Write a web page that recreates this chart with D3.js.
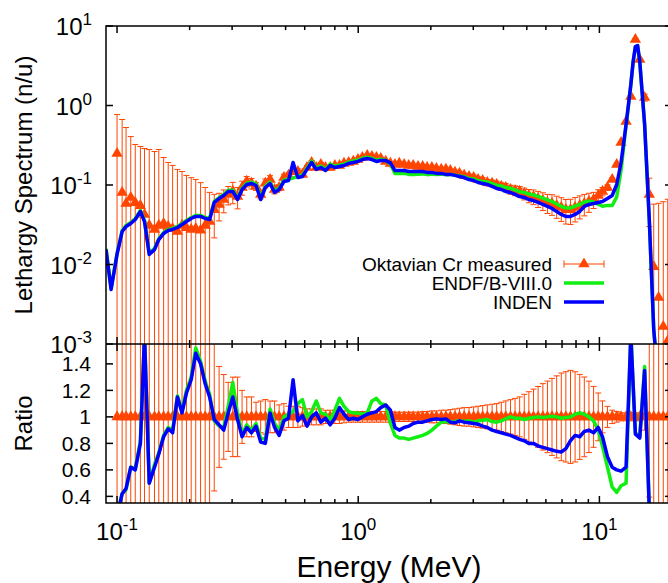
<!DOCTYPE html>
<html>
<head>
<meta charset="utf-8">
<script src="https://cdn.jsdelivr.net/npm/d3@7"></script>
<style>
  body { margin: 0; background: #fff; }
  svg { display: block; }
  text { font-family: "Liberation Sans", Arial, Helvetica, sans-serif; fill: #000; }
</style>
</head>
<body>
<svg id="chart" width="668" height="583"></svg>
<script>
// ---- measured spectrum (Oktavian Cr), lethargy units ----
const measE = [
  0.100, 0.105, 0.109, 0.114, 0.119, 0.125, 0.130, 0.136, 0.143, 0.149,
  0.156, 0.163, 0.170, 0.178, 0.186, 0.194, 0.203, 0.212, 0.222, 0.232,
  0.242, 0.253, 0.265, 0.277, 0.289, 0.302, 0.316, 0.330, 0.345, 0.361,
  0.377, 0.394, 0.412, 0.431, 0.450, 0.470, 0.492, 0.514, 0.537, 0.562,
  0.587, 0.613, 0.641, 0.670, 0.700, 0.732, 0.765, 0.800, 0.836, 0.873,
  0.913, 0.954, 0.997, 1.04, 1.09, 1.14, 1.19, 1.24, 1.30, 1.36,
  1.42, 1.48, 1.55, 1.62, 1.69, 1.77, 1.85, 1.93, 2.02, 2.11,
  2.21, 2.31, 2.41, 2.52, 2.63, 2.75, 2.88, 3.01, 3.14, 3.28,
  3.43, 3.59, 3.75, 3.92, 4.09, 4.28, 4.47, 4.67, 4.88, 5.10,
  5.33, 5.57, 5.83, 6.09, 6.36, 6.65, 6.95, 7.26, 7.59, 7.93,
  8.29, 8.66, 9.05, 9.46, 9.89, 10.3, 10.8, 11.3, 11.8, 12.3,
  12.9, 13.5, 14.1, 14.7, 15.4, 16.1, 16.8, 17.6, 18.4, 19.2
];
const measVal = [
  0.249, 0.0805, 0.0585, 0.0697, 0.060, 0.055, 0.0426, 0.031, 0.0276, 0.031,
  0.0328, 0.030, 0.0284, 0.026, 0.031, 0.029, 0.0276, 0.0284, 0.027, 0.031,
  0.0347, 0.049, 0.057, 0.0657, 0.076, 0.083, 0.0716, 0.093, 0.111, 0.105,
  0.096, 0.076, 0.105, 0.117, 0.0878, 0.093, 0.124, 0.132, 0.148, 0.148,
  0.136, 0.166, 0.192, 0.166, 0.181, 0.166, 0.166, 0.176, 0.176, 0.187,
  0.192, 0.198, 0.209, 0.222, 0.235, 0.228, 0.222, 0.215, 0.198, 0.187,
  0.181, 0.187, 0.181, 0.176, 0.176, 0.171, 0.171, 0.166, 0.166, 0.161,
  0.157, 0.157, 0.152, 0.144, 0.140, 0.132, 0.128, 0.124, 0.117, 0.114,
  0.1075, 0.105, 0.1015, 0.096, 0.093, 0.0878, 0.0853, 0.083, 0.0782, 0.0738,
  0.0716, 0.0676, 0.0638, 0.060, 0.0585, 0.0552, 0.052, 0.049, 0.049, 0.052,
  0.0552, 0.0585, 0.062, 0.0657, 0.0738, 0.083, 0.093, 0.117, 0.181, 0.342,
  0.629, 1.30, 6.76, 3.79, 1.26, 0.076, 0.0094, 0.00385, 0.00166, 0.0011
];
const measErr = [
  0.52, 0.586, 0.47, 0.337, 0.263, 0.25, 0.245, 0.249, 0.236, 0.249,
  0.189, 0.162, 0.148, 0.131, 0.117, 0.103, 0.096, 0.089, 0.080, 0.062,
  0.046, 0.0274, 0.0217, 0.021, 0.0198, 0.0249, 0.0215, 0.0186, 0.0167, 0.0158,
  0.0106, 0.0091, 0.0137, 0.014, 0.0105, 0.0084, 0.0124, 0.0106, 0.0118, 0.0118,
  0.0095, 0.010, 0.0115, 0.010, 0.0109, 0.0083, 0.0083, 0.0088, 0.0088, 0.0084,
  0.0077, 0.0079, 0.0084, 0.0089, 0.0094, 0.0091, 0.0089, 0.0086, 0.0079, 0.0075,
  0.0063, 0.0065, 0.0063, 0.0062, 0.0062, 0.0060, 0.0068, 0.0066, 0.0075, 0.0072,
  0.0079, 0.0079, 0.0084, 0.0086, 0.0091, 0.0092, 0.0090, 0.0093, 0.0094, 0.0097,
  0.0097, 0.0100, 0.0102, 0.0106, 0.0112, 0.0114, 0.0119, 0.0125, 0.0133, 0.0140,
  0.0150, 0.0155, 0.0160, 0.0162, 0.0170, 0.0171, 0.0172, 0.0167, 0.0172, 0.0177,
  0.0177, 0.0176, 0.0167, 0.0151, 0.0133, 0.010, 0.0074, 0.0059, 0.0072, 0.0103,
  0.0189, 0.039, 0.2, 0.11, 0.126, 0.046, 0.048, 0.055, 0.06, 0.065
];

// ---- calculated spectra ----
const modelE = [
  0.0900, 0.0945, 0.100, 0.105, 0.109, 0.114, 0.119, 0.125, 0.130, 0.136,
  0.143, 0.149, 0.156, 0.163, 0.170, 0.178, 0.186, 0.194, 0.203, 0.212,
  0.222, 0.232, 0.242, 0.253, 0.265, 0.277, 0.289, 0.302, 0.316, 0.330,
  0.345, 0.361, 0.377, 0.394, 0.412, 0.431, 0.450, 0.470, 0.492, 0.514,
  0.537, 0.562, 0.587, 0.613, 0.641, 0.670, 0.700, 0.732, 0.765, 0.800,
  0.836, 0.873, 0.913, 0.954, 0.997, 1.04, 1.09, 1.14, 1.19, 1.24,
  1.30, 1.36, 1.42, 1.48, 1.55, 1.62, 1.69, 1.77, 1.85, 1.93,
  2.02, 2.11, 2.21, 2.31, 2.41, 2.52, 2.63, 2.75, 2.88, 3.01,
  3.14, 3.28, 3.43, 3.59, 3.75, 3.92, 4.09, 4.28, 4.47, 4.67,
  4.88, 5.10, 5.33, 5.57, 5.83, 6.09, 6.36, 6.65, 6.95, 7.26,
  7.59, 7.93, 8.29, 8.66, 9.05, 9.46, 9.89, 10.3, 10.8, 11.3,
  11.8, 12.3, 12.9, 13.2, 13.5, 13.8, 14.1, 14.4, 14.7, 15.4,
  16.1, 16.8, 17.6, 18.4, 19.2
];
const indenVal = [
  0.0154, 0.00485, 0.0134, 0.026, 0.030, 0.0328, 0.0368, 0.0464, 0.0347, 0.0134,
  0.0154, 0.0206, 0.0245, 0.0268, 0.0276, 0.0292, 0.0318, 0.0347, 0.0379, 0.0402,
  0.0402, 0.0379, 0.0368, 0.0603, 0.0676, 0.0738, 0.0828, 0.0828, 0.0657, 0.0878,
  0.1015, 0.1044, 0.0986, 0.0657, 0.093, 0.1044, 0.0805, 0.0878, 0.1107, 0.114,
  0.192, 0.124, 0.128, 0.157, 0.192, 0.157, 0.166, 0.152, 0.176, 0.166,
  0.171, 0.176, 0.187, 0.192, 0.198, 0.209, 0.215, 0.209, 0.198, 0.203,
  0.203, 0.19, 0.152, 0.152, 0.152, 0.148, 0.148, 0.148, 0.148, 0.144,
  0.144, 0.140, 0.140, 0.136, 0.136, 0.132, 0.128, 0.124, 0.117, 0.114,
  0.1075, 0.1044, 0.1015, 0.096, 0.0905, 0.0878, 0.083, 0.0805, 0.076, 0.0716,
  0.0697, 0.0657, 0.0638, 0.0603, 0.0569, 0.0537, 0.0507, 0.0465, 0.0426, 0.0402,
  0.0402, 0.0426, 0.0465, 0.0537, 0.0569, 0.0585, 0.0603, 0.062, 0.0676, 0.0738,
  0.1015, 0.192, 0.577, 1.03, 1.84, 3.58, 5.52, 5.69, 3.58, 0.577,
  0.0368, 0.00152, 0.0003, 0.0002, 0.0002
];
const endfVal = [
  0.0158, 0.0050, 0.0138, 0.0268, 0.031, 0.0338, 0.0379, 0.0478, 0.0357, 0.0138,
  0.0159, 0.0212, 0.0252, 0.0276, 0.0284, 0.0301, 0.0328, 0.0357, 0.039, 0.0414,
  0.0414, 0.039, 0.0379, 0.0621, 0.0696, 0.076, 0.0861, 0.0861, 0.0683, 0.0913,
  0.1056, 0.1086, 0.1025, 0.0683, 0.0967, 0.1086, 0.0837, 0.0913, 0.115, 0.119,
  0.122, 0.129, 0.133, 0.163, 0.2, 0.163, 0.173, 0.158, 0.183, 0.173,
  0.178, 0.183, 0.194, 0.2, 0.206, 0.217, 0.224, 0.217, 0.206, 0.211,
  0.203, 0.185, 0.14, 0.14, 0.14, 0.136, 0.136, 0.137, 0.138, 0.135,
  0.137, 0.136, 0.137, 0.135, 0.136, 0.133, 0.13, 0.127, 0.121, 0.119,
  0.113, 0.111, 0.109, 0.104, 0.0995, 0.0975, 0.0929, 0.0909, 0.0866, 0.0823,
  0.0808, 0.0769, 0.0753, 0.0718, 0.0683, 0.065, 0.0619, 0.0577, 0.0537, 0.0515,
  0.0515, 0.0541, 0.057, 0.0612, 0.0623, 0.0614, 0.0573, 0.054, 0.0554, 0.0553,
  0.071, 0.154, 0.56, 1.0, 1.8, 3.5, 5.45, 5.65, 3.55, 0.57,
  0.0365, 0.0015, 0.0003, 0.0002, 0.0002
];

// ---- calculation / measurement ratios at the measured energies ----
const ratioEndf = [
  0.25, 0.42, 0.45, 0.62, 0.61, 0.82, 1.62, 0.50, 0.64, 0.73,
  0.86, 0.92, 0.90, 1.16, 1.05, 1.20, 1.30, 1.52, 1.42, 1.27,
  1.17, 0.97, 0.93, 0.92, 1.08, 1.26, 1.02, 0.87, 0.94, 0.90,
  0.95, 0.84, 0.83, 1.06, 0.95, 0.90, 1.00, 1.02, 1.04, 1.10,
  1.13, 1.00, 1.04, 1.12, 1.03, 1.02, 0.98, 1.05, 1.14, 1.08,
  1.04, 1.03, 1.03, 1.02, 1.03, 1.12, 1.14, 1.10, 1.09, 0.95,
  0.86, 0.84, 0.84, 0.83, 0.84, 0.85, 0.86, 0.875, 0.90, 0.93,
  0.96, 0.965, 0.96, 0.965, 0.97, 0.965, 0.97, 0.96, 0.97, 0.975,
  0.98, 0.965, 0.96, 0.97, 0.985, 1.00, 0.99, 0.99, 0.98, 0.99,
  0.995, 1.00, 0.995, 1.00, 1.005, 1.00, 0.99, 0.995, 1.00, 1.02,
  1.03, 1.02, 1.00, 0.97, 0.90, 0.78, 0.62, 0.47, 0.43, 0.48,
  0.50, 1.62, 0.88, 0.85, 1.38, 0.30, 0.10, 0.10, 0.10, 0.10
];
const ratioInden = [
  0.25, 0.42, 0.46, 0.62, 0.60, 0.80, 1.62, 0.50, 0.62, 0.72,
  0.85, 0.91, 0.88, 1.15, 1.03, 1.18, 1.28, 1.48, 1.40, 1.25,
  1.15, 0.98, 0.94, 0.90, 1.03, 1.15, 0.98, 0.85, 0.92, 0.88,
  0.93, 0.81, 0.80, 1.03, 0.92, 0.86, 0.97, 0.99, 1.28, 0.97,
  1.01, 0.93, 1.00, 1.03, 0.96, 0.99, 0.94, 0.99, 1.07, 1.02,
  0.98, 0.99, 0.98, 1.00, 1.02, 1.03, 1.04, 1.07, 1.09, 1.05,
  0.92, 0.90, 0.92, 0.93, 0.95, 0.96, 0.96, 0.97, 0.98, 0.985,
  0.98, 0.985, 0.96, 0.955, 0.97, 0.96, 0.955, 0.95, 0.945, 0.93,
  0.92, 0.90, 0.89, 0.88, 0.87, 0.86, 0.845, 0.83, 0.82, 0.80,
  0.80, 0.78, 0.77, 0.76, 0.75, 0.74, 0.735, 0.76, 0.82, 0.86,
  0.85, 0.89, 0.90, 0.88, 0.92, 0.85, 0.70, 0.62, 0.60, 0.59,
  0.62, 1.62, 0.87, 0.84, 1.35, 0.30, 0.10, 0.10, 0.10, 0.10
];

// ---- axes ticks and labels ----
const xMajorExp = [-1, 0, 1];
const xMinor = [0.2, 0.3, 0.4, 0.5, 0.6, 0.7, 0.8, 0.9, 2, 3, 4, 5, 6, 7, 8, 9];
const yMajorExp = [1, 0, -1, -2, -3];
const ratioTicks = [1.4, 1.2, 1, 0.8, 0.6, 0.4];
const ratioTickLabels = ["1.4", "1.2", "1", "0.8", "0.6", "0.4"];
const legendLabels = ["Oktavian Cr measured", "ENDF/B-VIII.0", "INDEN"];

const colMeas = "#ff4500", colEndf = "#11ee11", colInden = "#0000ff";

const svg = d3.select("#chart");
const L = 106, R = 672, T1 = 26, B1 = 344, T2 = 344, B2 = 503;

const x = d3.scaleLog().domain([0.09, 20]).range([L, R]);
const y = d3.scaleLog().domain([1e-3, 1e1]).range([B1, T1]);
const yr = d3.scaleLinear().domain([0.35, 1.55]).range([B2, T2]);

const defs = svg.append("defs");
defs.append("clipPath").attr("id", "clipTop")
  .append("rect").attr("x", L).attr("y", T1).attr("width", R - L).attr("height", B1 - T1);
defs.append("clipPath").attr("id", "clipBot")
  .append("rect").attr("x", L).attr("y", T2).attr("width", R - L).attr("height", B2 - T2);

const meas = measE.map((e, i) => ({ e, v: measVal[i], err: measErr[i], rel: measErr[i] / measVal[i] }));
const tri = d3.symbol().type(d3.symbolTriangle).size(56);

// ================= top panel =================
const gTop = svg.append("g").attr("clip-path", "url(#clipTop)");

const capW = 3;
meas.forEach(d => {
  const px = x(d.e);
  const hi = y(d.v + d.err);
  const lo = d.v - d.err > 0 ? y(d.v - d.err) : B1 + 20;
  gTop.append("line").attr("x1", px).attr("x2", px).attr("y1", lo).attr("y2", hi)
    .attr("stroke", colMeas).attr("stroke-width", 1);
  gTop.append("line").attr("x1", px - capW).attr("x2", px + capW).attr("y1", hi).attr("y2", hi)
    .attr("stroke", colMeas).attr("stroke-width", 1);
  if (d.v - d.err > 0) {
    gTop.append("line").attr("x1", px - capW).attr("x2", px + capW).attr("y1", lo).attr("y2", lo)
      .attr("stroke", colMeas).attr("stroke-width", 1);
  }
});
gTop.selectAll("path.mtri").data(meas).join("path").attr("class", "mtri")
  .attr("d", tri)
  .attr("transform", d => `translate(${x(d.e)},${y(d.v)})`)
  .attr("fill", colMeas);

const specLine = d3.line()
  .x(d => x(d[0]))
  .y(d => y(Math.max(d[1], 1e-5)));

gTop.append("path")
  .attr("d", specLine(modelE.map((e, i) => [e, endfVal[i]])))
  .attr("fill", "none").attr("stroke", colEndf).attr("stroke-width", 3.5)
  .attr("stroke-linejoin", "round");
gTop.append("path")
  .attr("d", specLine(modelE.map((e, i) => [e, indenVal[i]])))
  .attr("fill", "none").attr("stroke", colInden).attr("stroke-width", 3.5)
  .attr("stroke-linejoin", "round");

// ================= ratio panel =================
const gBot = svg.append("g").attr("clip-path", "url(#clipBot)");
meas.forEach(d => {
  const px = x(d.e);
  const hi = yr(1 + d.rel);
  const lo = yr(1 - d.rel);
  gBot.append("line").attr("x1", px).attr("x2", px).attr("y1", lo).attr("y2", hi)
    .attr("stroke", colMeas).attr("stroke-width", 1);
  [hi, lo].forEach(yy => {
    gBot.append("line").attr("x1", px - capW).attr("x2", px + capW).attr("y1", yy).attr("y2", yy)
      .attr("stroke", colMeas).attr("stroke-width", 1);
  });
});
gBot.selectAll("path.rtri").data(meas).join("path").attr("class", "rtri")
  .attr("d", tri)
  .attr("transform", d => `translate(${x(d.e)},${yr(1)})`)
  .attr("fill", colMeas);

const ratioLine = d3.line().x(d => x(d[0])).y(d => yr(d[1]));
gBot.append("path")
  .attr("d", ratioLine(measE.map((e, i) => [e, ratioEndf[i]])))
  .attr("fill", "none").attr("stroke", colEndf).attr("stroke-width", 3.5)
  .attr("stroke-linejoin", "round");
gBot.append("path")
  .attr("d", ratioLine(measE.map((e, i) => [e, ratioInden[i]])))
  .attr("fill", "none").attr("stroke", colInden).attr("stroke-width", 3.5)
  .attr("stroke-linejoin", "round");

// ================= frames and ticks =================
const axes = svg.append("g").attr("stroke", "#000").attr("stroke-width", 1.5).attr("fill", "none");
axes.append("path").attr("d", `M${R},${T1}H${L}V${B2}H${R}`);
axes.append("path").attr("d", `M${L},${B1}H${R}`);

const majLen = 7, minLen = 4;
function xTicks(yEdge, dir) {
  xMajorExp.forEach(k => {
    const px = x(Math.pow(10, k));
    axes.append("line").attr("x1", px).attr("x2", px).attr("y1", yEdge).attr("y2", yEdge + dir * majLen);
  });
  xMinor.forEach(v => {
    const px = x(v);
    axes.append("line").attr("x1", px).attr("x2", px).attr("y1", yEdge).attr("y2", yEdge + dir * minLen);
  });
}
xTicks(T1, 1); xTicks(B1, -1); xTicks(T2, 1); xTicks(B2, -1);

yMajorExp.forEach(k => {
  const py = y(Math.pow(10, k));
  axes.append("line").attr("x1", L).attr("x2", L + majLen).attr("y1", py).attr("y2", py);
  axes.append("line").attr("x1", R).attr("x2", R - majLen).attr("y1", py).attr("y2", py);
});
ratioTicks.forEach(v => {
  const py = yr(v);
  axes.append("line").attr("x1", L).attr("x2", L + majLen).attr("y1", py).attr("y2", py);
  axes.append("line").attr("x1", R).attr("x2", R - majLen).attr("y1", py).attr("y2", py);
});

// ================= labels =================
function powLabel(px, py, anchor, k) {
  const t = svg.append("text").attr("x", px).attr("y", py)
    .attr("text-anchor", anchor).attr("font-size", 24);
  t.append("tspan").text("10");
  t.append("tspan").attr("dy", -10).attr("font-size", 17).text(String(k));
}
yMajorExp.forEach(k => powLabel(92, y(Math.pow(10, k)) + 9, "end", k));
xMajorExp.forEach(k => powLabel(x(Math.pow(10, k)), 540, "middle", k));

ratioTicks.forEach((v, i) => {
  svg.append("text").attr("x", 91).attr("y", yr(v) + 7.5)
    .attr("text-anchor", "end").attr("font-size", 21).text(ratioTickLabels[i]);
});

svg.append("text")
  .attr("transform", `translate(32,${(T1 + B1) / 2}) rotate(-90)`)
  .attr("text-anchor", "middle").attr("font-size", 24)
  .text("Lethargy Spectrum (n/u)");
svg.append("text")
  .attr("transform", `translate(32,${(T2 + B2) / 2}) rotate(-90)`)
  .attr("text-anchor", "middle").attr("font-size", 24)
  .text("Ratio");
svg.append("text")
  .attr("x", (L + R) / 2).attr("y", 577)
  .attr("text-anchor", "middle").attr("font-size", 30)
  .text("Energy (MeV)");

// ================= legend =================
const lg = svg.append("g");
const rowY = [264, 283, 302];
const sx1 = 564, sx2 = 604;
legendLabels.forEach((lab, i) => {
  lg.append("text").attr("x", 552).attr("y", rowY[i] + 7)
    .attr("text-anchor", "end").attr("font-size", 19).text(lab);
});
lg.append("line").attr("x1", sx1).attr("x2", sx2).attr("y1", rowY[0]).attr("y2", rowY[0])
  .attr("stroke", colMeas).attr("stroke-width", 1);
[sx1, sx2].forEach(px => lg.append("line").attr("x1", px).attr("x2", px)
  .attr("y1", rowY[0] - 3.5).attr("y2", rowY[0] + 3.5).attr("stroke", colMeas).attr("stroke-width", 1));
lg.append("path").attr("d", tri).attr("transform", `translate(${(sx1 + sx2) / 2},${rowY[0]})`).attr("fill", colMeas);
lg.append("line").attr("x1", sx1).attr("x2", sx2).attr("y1", rowY[1]).attr("y2", rowY[1])
  .attr("stroke", colEndf).attr("stroke-width", 3.5);
lg.append("line").attr("x1", sx1).attr("x2", sx2).attr("y1", rowY[2]).attr("y2", rowY[2])
  .attr("stroke", colInden).attr("stroke-width", 3.5);
</script>
</body>
</html>
